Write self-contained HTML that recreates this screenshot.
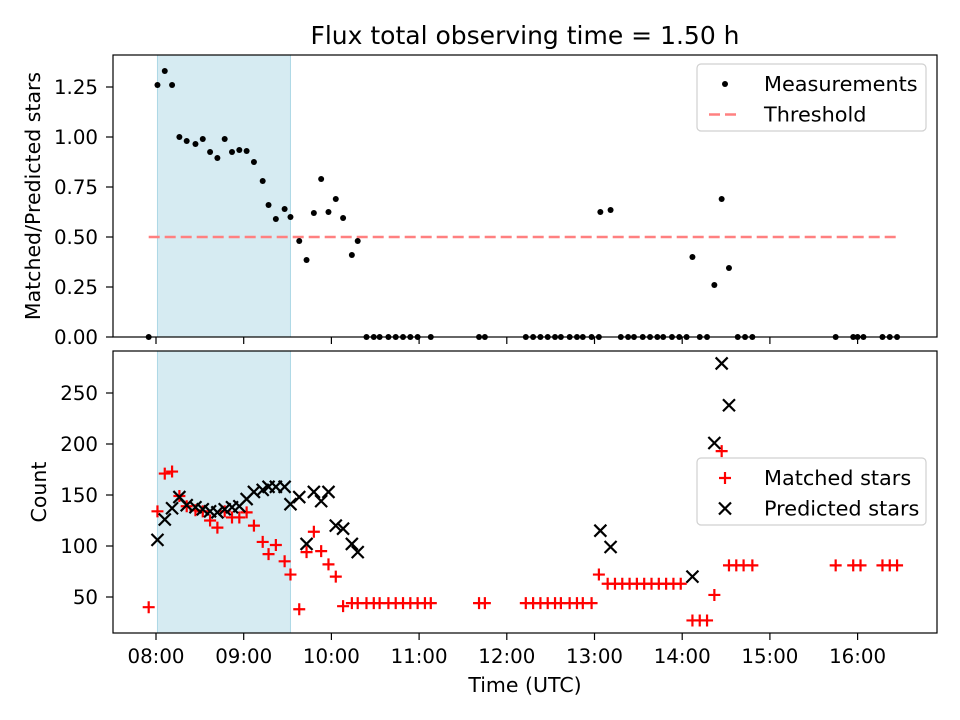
<!DOCTYPE html>
<html><head><meta charset="utf-8"><style>
body{margin:0;background:#fff;}
svg{display:block;font-family:"DejaVu Sans","Liberation Sans",sans-serif;}
</style></head><body>
<svg id="chart" width="960" height="720" viewBox="0 0 960 720">
<text x="525" y="44" text-anchor="middle" font-size="25">Flux total observing time = 1.50 h</text>
<g id="top"></g><g id="bot"></g>
</svg>
<script>
// minutes after 08:00
const ratioTimes=[-5,1,6,11,16,21,27,32,37,42,47,52,57,62,67,73,77,82,88,92,98,103,108,113,118,123,128,134,138,144,149,153,159,164,169,174,179,188,221,225,253,258,263,268,273,277,283,288,292,298,303,304,311,318,323,327,333,338,343,347,353,358,363,367,372,377,382,387,392,398,403,408,465,477,480,484,497,502,507];
const ratioValues=[0,1.26,1.33,1.26,1.0,0.98,0.965,0.99,0.925,0.895,0.99,0.925,0.935,0.93,0.875,0.78,0.66,0.59,0.64,0.6,0.48,0.385,0.62,0.79,0.625,0.69,0.595,0.41,0.48,0,0,0,0,0,0,0,0,0,0,0,0,0,0,0,0,0,0,0,0,0,0,0.625,0.635,0,0,0,0,0,0,0,0,0,0,0.40,0,0,0.26,0.69,0.345,0,0,0,0,0,0,0,0,0,0];
const matchedTimes=[-5,1,6,11,16,21,27,32,37,42,47,52,57,62,67,73,77,82,88,92,98,103,108,113,118,123,128,134,138,144,149,153,159,164,169,174,179,184,188,221,225,253,258,263,268,273,277,283,288,292,298,303,309,314,319,324,329,334,339,344,349,354,359,367,372,377,382,387,392,397,402,408,465,477,482,497,502,507];
const matchedValues=[40,134,171,173,149,139,135,134,125,118,134,128,128,133,120,104,92,101,85,72,38,94,114,95,82,70,41,44,44,44,44,44,44,44,44,44,44,44,44,44,44,44,44,44,44,44,44,44,44,44,44,72,63,63,63,63,63,63,63,63,63,63,63,27,27,27,52,193,81,81,81,81,81,81,81,81,81,81];
const predTimes=[1,6,11,16,21,27,32,37,42,47,52,57,62,67,73,77,82,88,92,98,103,108,113,118,123,128,134,138,304,311,367,382,387,392];
const predValues=[106,126,137,148,140,138,136,134,133,136,138,139,146,153,155,158,158,158,141,148,102,153,144,153,120,117,102,94,115,99,70,201,279,238];
const timeTicks=[0,60,120,180,240,300,360,420,480];
const timeLabels=["08:00","09:00","10:00","11:00","12:00","13:00","14:00","15:00","16:00"];
const ratioTicks=[0,0.25,0.5,0.75,1.0,1.25];
const countTicks=[50,100,150,200,250];
const shade=[1,92];
const threshold=0.5, thrStart=-5, thrEnd=508;

const NS="http://www.w3.org/2000/svg";
const L=113,R=937;
const xs=m=>156+m*87.7/60;
const yTop=v=>337-v*200;
const yBot=v=>597-(v-50)*1.02;
function mk(p,tag,at){const e=document.createElementNS(NS,tag);for(const k in at)e.setAttribute(k,at[k]);p.appendChild(e);return e;}
const plus=(x,y)=>`M${x-6},${y}H${x+6}M${x},${y-6}V${y+6}`;
const cross=(x,y)=>`M${x-6},${y-6}L${x+6},${y+6}M${x-6},${y+6}L${x+6},${y-6}`;

function panel(g,top,bot,yf,ticks,fmt,label,showX,name){
  const sh=mk(g,'rect',{x:xs(shade[0]),y:top,width:xs(shade[1])-xs(shade[0]),height:bot-top,fill:'#add8e6','fill-opacity':0.5,stroke:'#add8e6'});
  
  
  ticks.forEach(t=>{const y=yf(t);
    mk(g,'line',{x1:L-7,x2:L,y1:y,y2:y,stroke:'#000','stroke-width':1.2});
    const tx=mk(g,'text',{x:L-15,y:y+7,'text-anchor':'end','font-size':19.8});tx.textContent=fmt(t);
    
    });
  timeTicks.forEach((t,i)=>{const x=xs(t);
    mk(g,'line',{x1:x,x2:x,y1:bot,y2:bot+7,stroke:'#000','stroke-width':1.2});
    if(showX){const tx=mk(g,'text',{x:x,y:bot+30,'text-anchor':'middle','font-size':19.8});tx.textContent=timeLabels[i];
      
      }});
  const yl=mk(g,'text',{transform:`translate(${name==='top'?40:46},${(top+bot)/2}) rotate(-90)`,'text-anchor':'middle','font-size':20.5});
  yl.textContent=label;
  
  
}
const gt=document.getElementById('top'),gb=document.getElementById('bot');
panel(gt,55,337,yTop,ratioTicks,v=>v.toFixed(2),'Matched/Predicted stars',false,'top');
panel(gb,351,633,yBot,countTicks,v=>String(v),'Count',true,'bottom');

const th=mk(gt,'line',{x1:xs(thrStart),x2:xs(thrEnd),y1:yTop(threshold),y2:yTop(threshold),stroke:'#ff8080','stroke-width':2.5,'stroke-dasharray':'11,5'});


ratioTimes.forEach((t,i)=>{const c=mk(gt,'circle',{cx:xs(t),cy:yTop(ratioValues[i]),r:3,fill:'#000'});
  
  });
matchedTimes.forEach((t,i)=>{
  const p=mk(gb,'path',{d:plus(xs(t),yBot(matchedValues[i])),stroke:'#f00','stroke-width':2.2});
  
  });
predTimes.forEach((t,i)=>{
  const p=mk(gb,'path',{d:cross(xs(t),yBot(predValues[i])),stroke:'#000','stroke-width':2.2});
  
  });
[[55,337],[351,633]].forEach(([a,b],i)=>{const r=mk(i?gb:gt,'rect',{x:L,y:a,width:R-L,height:b-a,fill:'none',stroke:'#000','stroke-width':1.2});
  
  });
const xl=mk(gb,'text',{x:525,y:692,'text-anchor':'middle','font-size':20.5});xl.textContent='Time (UTC)';



function legend(g,y0,items,name){
  const box=mk(g,'rect',{x:697,y:y0,width:229,height:67,rx:4,fill:'#fff','fill-opacity':0.8,stroke:'#d0d0d0','stroke-width':1.2});
  
  
  items.forEach((it,i)=>{const y=y0+20+i*30.5,x=725;
    it.draw(x,y);
    const t=mk(g,'text',{x:764,y:y+7,'font-size':20.8});t.textContent=it.label;
    
    });
}
legend(gt,64,[
 {label:'Measurements',draw:(x,y)=>mk(gt,'circle',{cx:x,cy:y,r:3,fill:'#000'})},
 {label:'Threshold',draw:(x,y)=>mk(gt,'line',{x1:x-16,x2:x+16,y1:y,y2:y,stroke:'#ff8080','stroke-width':2.5,'stroke-dasharray':'11,5'})}],'top-legend');
legend(gb,458,[
 {label:'Matched stars',draw:(x,y)=>mk(gb,'path',{d:plus(x,y),stroke:'#f00','stroke-width':2.2})},
 {label:'Predicted stars',draw:(x,y)=>mk(gb,'path',{d:cross(x,y),stroke:'#000','stroke-width':2.2})}],'bottom-legend');
</script>
</body></html>
